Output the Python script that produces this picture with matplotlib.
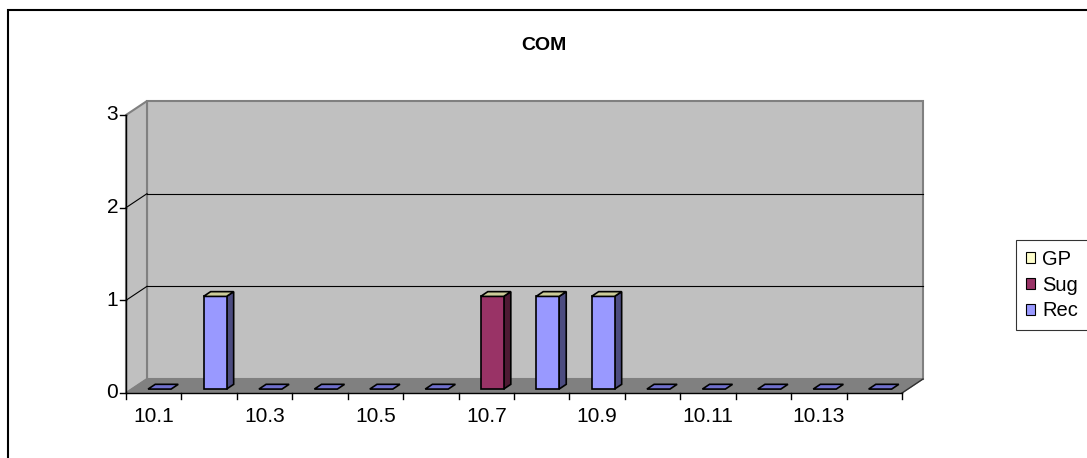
import matplotlib
matplotlib.use("Agg")
import matplotlib.pyplot as plt
from matplotlib.patches import Polygon, Rectangle, Patch
from matplotlib.transforms import IdentityTransform
import numpy as np

plt.rcParams['font.family'] = ['Liberation Sans', 'DejaVu Sans']

# Data
categories = ["10.1", "10.2", "10.3", "10.4", "10.5", "10.6", "10.7",
              "10.8", "10.9", "10.10", "10.11", "10.12", "10.13", "10.14"]
series_names = ["GP", "Sug", "Rec"]
rec = [0, 1, 0, 0, 0, 0, 0, 1, 1, 0, 0, 0, 0, 0]
sug = [0, 0, 0, 0, 0, 0, 1, 0, 0, 0, 0, 0, 0, 0]
gp = [0, 0, 0, 0, 0, 0, 0, 0, 0, 0, 0, 0, 0, 0]
y_ticks = [0, 1, 2, 3]

# Colours (front face, side face)
COL = {
    "Rec": ("#9999FF", "#4C4C80"),
    "Sug": ("#993366", "#4D1A33"),
    "GP": ("#FFFFCC", "#80806A"),
}
TOP_FILLED = "#CCCC99"
TOP_EMPTY = "#6F6FCC"

W, H = 1087, 458
fig = plt.figure(figsize=(W / 100, H / 100), dpi=100)
fig.patch.set_facecolor("white")

# Front plane of the 3-D plot
x0, x1, yb, yt = 126, 902, 393, 115
ax = fig.add_axes([x0 / W, (H - yb) / H, (x1 - x0) / W, (yb - yt) / H])
n = len(categories)
ax.set_xlim(0, n)
ax.set_ylim(0, 3)
ax.axis("off")
fig.canvas.draw()

DX, DY = 21.0, 14.0   # depth offset in pixels (front -> back)


def P(x, y, f):
    px, py = ax.transData.transform((x, y))
    return (px + f * DX, py + f * DY)


def poly(pts, fc, ec="black", lw=1.0, z=1):
    p = Polygon(pts, closed=True, facecolor=fc, edgecolor=ec, linewidth=lw,
                transform=IdentityTransform(), zorder=z, clip_on=False)
    fig.add_artist(p)


def line(a, b, color="black", lw=0.8, z=2):
    fig.add_artist(plt.Line2D([a[0], b[0]], [a[1], b[1]], color=color, lw=lw,
                              transform=IdentityTransform(), zorder=z))


FS = 15
ymax = y_ticks[-1]
# Walls and floor
poly([P(0, 0, 1), P(n, 0, 1), P(n, ymax, 1), P(0, ymax, 1)], "#C0C0C0", "#808080", 1.5, 1)
poly([P(0, 0, 0), P(0, ymax, 0), P(0, ymax, 1), P(0, 0, 1)], "#C0C0C0", "#808080", 1.5, 1)
poly([P(0, 0, 0), P(n, 0, 0), P(n, 0, 1), P(0, 0, 1)], "#808080", "#808080", 0.8, 1)

# Gridlines on back and side walls
for t in y_ticks[1:-1]:
    line(P(0, t, 1), P(n, t, 1), "black", 0.8)
    line(P(0, t, 0), P(0, t, 1), "black", 0.8)
line(P(n, 0, 0), P(n, 0, 1), "#303030", 1.0)

# Axes lines and ticks
line(P(0, 0, 0), P(0, ymax, 0), "black", 1.0, 3)
line(P(0, 0, 0), P(n, 0, 0), "black", 1.0, 3)
for t in y_ticks:
    a = P(0, t, 0)
    line((a[0] - 6, a[1]), a, "black", 1.0, 3)
    fig.text((a[0] - 8) / W, a[1] / H, str(t), ha="right", va="center", fontsize=FS)
for i in range(n + 1):
    a = P(i, 0, 0)
    line(a, (a[0], a[1] - 6), "black", 1.0, 3)
for i in range(0, n, 2):
    a = P(i + 0.5, 0, 0)
    fig.text(a[0] / W, (a[1] - 24) / H, categories[i], ha="center", va="center", fontsize=FS)

# Bars (stacked Rec, Sug, GP)
bw = 0.415
f0, f1 = 0.28, 0.62
for i in range(n):
    xl, xr = i + 0.5 - bw / 2, i + 0.5 + bw / 2
    base = 0.0
    for name, vals in (("Rec", rec), ("Sug", sug), ("GP", gp)):
        v = vals[i]
        if v > 0:
            front, side = COL[name]
            top = base + v
            poly([P(xr, base, f0), P(xr, top, f0), P(xr, top, f1), P(xr, base, f1)], side, lw=1.2, z=4)
            poly([P(xl, base, f0), P(xr, base, f0), P(xr, top, f0), P(xl, top, f0)], front, lw=1.2, z=5)
        base += v
    topc = TOP_FILLED if base > 0 else TOP_EMPTY
    poly([P(xl, base, f0), P(xr, base, f0), P(xr, base, f1), P(xl, base, f1)], topc, lw=1.2, z=5)

# Title
fig.text(544 / W, 1 - 45 / H, "COM", ha="center", va="center", fontsize=14, fontweight="bold")

# Legend
handles = [Patch(facecolor=COL[s][0], edgecolor="black", linewidth=0.8) for s in series_names]
leg = fig.legend(handles, series_names, loc="upper left",
                 bbox_to_anchor=(1016 / W, 1 - 240 / H), fontsize=14.5,
                 frameon=True, fancybox=False, edgecolor="black",
                 handlelength=0.45, handleheight=0.45, handletextpad=0.35,
                 labelspacing=0.33, borderpad=0.5, borderaxespad=0)
leg.get_frame().set_linewidth(0.8)

# Chart area border
fig.add_artist(Rectangle((8 / W, -0.1), 1.2, 1 - 10 / H + 0.1, transform=fig.transFigure,
                         facecolor="none", edgecolor="black", linewidth=1.5, clip_on=False))

fig.savefig("out.png", dpi=100, facecolor="white")
